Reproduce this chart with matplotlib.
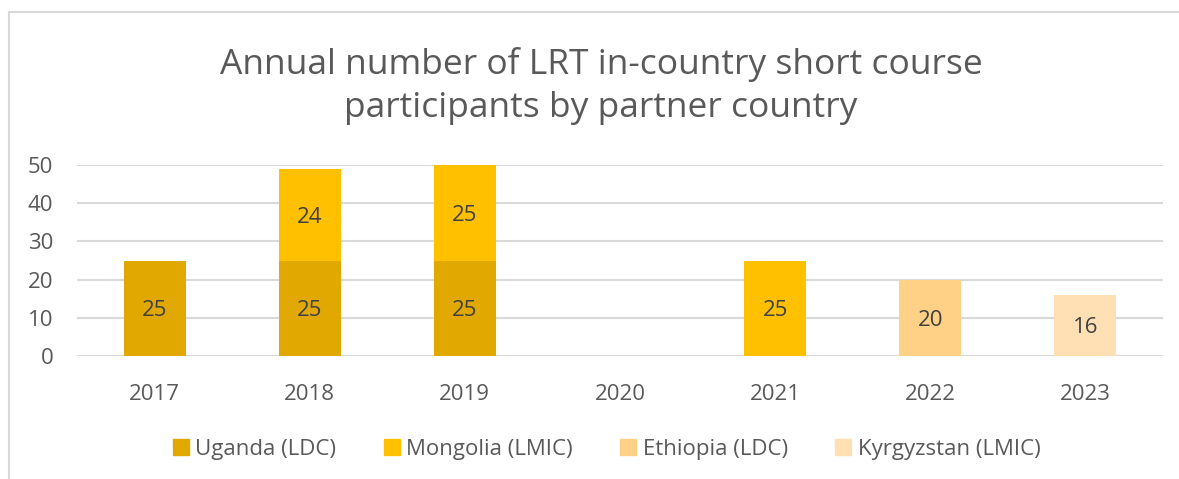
import numpy as np
import matplotlib.pyplot as plt
from matplotlib.lines import Line2D

plt.rcParams['font.family'] = ['Open Sans', 'DejaVu Sans']

years = ['2017', '2018', '2019', '2020', '2021', '2022', '2023']
countries = ['Uganda (LDC)', 'Mongolia (LMIC)', 'Ethiopia (LDC)', 'Kyrgyzstan (LMIC)']
uganda = [25, 25, 25, 0, 0, 0, 0]
mongolia = [0, 24, 25, 0, 25, 0, 0]
ethiopia = [0, 0, 0, 0, 0, 20, 0]
kyrgyzstan = [0, 0, 0, 0, 0, 0, 16]
colors = ['#E0A800', '#FFC000', '#FFD187', '#FFE0B4']

text_col = '#595959'

fig = plt.figure(figsize=(11.79, 4.79), dpi=100)
ax = fig.add_axes([77/1179, 1-356/479, (1163-77)/1179, (356-165)/479])

x = np.arange(len(years))
bottom = np.zeros(len(years))
for vals, c in zip([uganda, mongolia, ethiopia, kyrgyzstan], colors):
    vals = np.array(vals, dtype=float)
    bars = ax.bar(x, vals, 0.4, bottom=bottom, color=c, zorder=3)
    for b, v, bt in zip(bars, vals, bottom):
        if v > 0:
            ax.text(b.get_x() + b.get_width()/2, bt + v/2, f'{int(v)}',
                    ha='center', va='center_baseline', fontsize=16, color='#404040', zorder=4)
    bottom += vals

ax.set_xlim(-0.5, len(years) - 0.5)
ax.set_ylim(0, 50)
ax.set_yticks(range(0, 51, 10))
ax.set_xticks(x)
ax.set_xticklabels(years)
ax.yaxis.grid(True, color='#D9D9D9', linewidth=1.5, zorder=0)
ax.set_axisbelow(True)
for s in ax.spines.values():
    s.set_visible(False)
ax.tick_params(length=0, labelsize=16, labelcolor=text_col)
ax.tick_params(axis='x', pad=20)
ax.tick_params(axis='y', pad=17)

fig.text(601/1179, 1-86/479, 'Annual number of LRT in-country short course\nparticipants by partner country',
         ha='center', va='center', fontsize=25.5, color=text_col, linespacing=1.36)

handles = [Line2D([], [], marker='s', linestyle='none', markersize=12,
                  markerfacecolor=c, markeredgecolor=c) for c in colors]
fig.legend(handles, countries, loc='center', bbox_to_anchor=(605/1179, 1-449/479),
           ncol=4, frameon=False, fontsize=16, labelcolor=text_col,
           handletextpad=0.15, columnspacing=2.0, handlelength=1.0)

# chart border (light grey)
fig.add_artist(Line2D([9/1179, 9/1179], [0, 1-12/479], color='#D9D9D9', linewidth=1.5,
                      transform=fig.transFigure))
fig.add_artist(Line2D([9/1179, 1], [1-12/479, 1-12/479], color='#D9D9D9', linewidth=1.5,
                      transform=fig.transFigure))

fig.savefig('out.png', dpi=100)
